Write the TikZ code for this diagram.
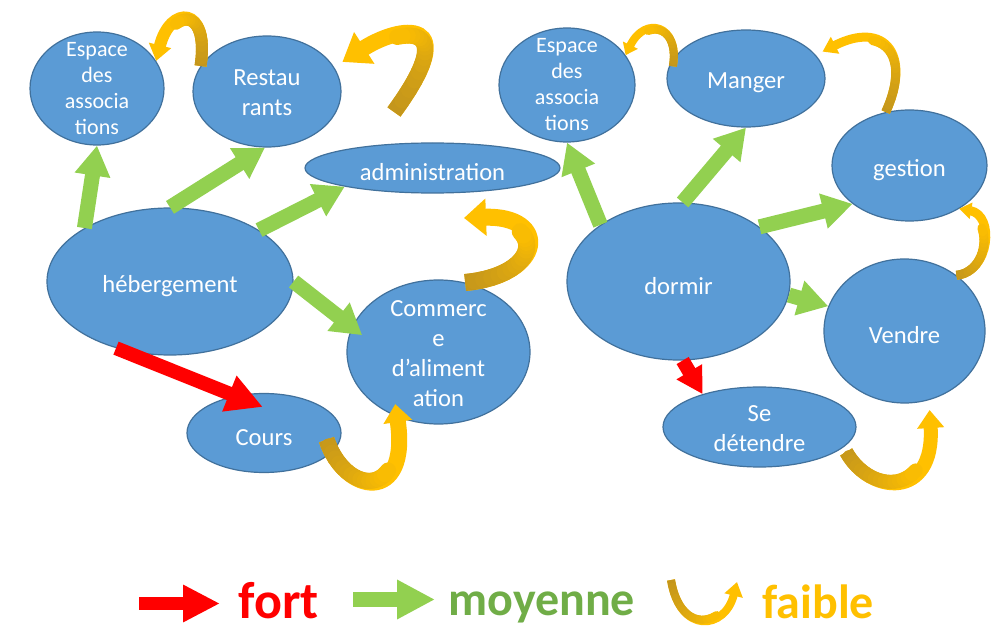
\documentclass[tikz,border=0pt]{standalone}
\usepackage{fontspec}
\setmainfont{Carlito}
\usetikzlibrary{shapes.geometric,arrows.meta}

\definecolor{bleubulle}{RGB}{91,155,213}
\definecolor{bordbulle}{RGB}{65,113,156}
\definecolor{vert}{RGB}{146,208,80}
\definecolor{vertfonce}{RGB}{112,173,71}
\definecolor{rouge}{RGB}{255,0,0}
\definecolor{jaune}{RGB}{255,192,0}
\definecolor{ocre}{RGB}{196,150,28}

% Curved ribbon arrow: #1 width, #2 head size, #3 start, #4/#5 controls, #6 end.
% Bright stroke with its head, then a dark-to-bright overlay on the tail part.
\newcommand\ruban[6]{%
  \draw[draw=jaune, line width=#1, -{Triangle[#2]}] #3 .. controls #4 and #5 .. #6;
  \path #3 .. controls #4 and #5 .. #6
    foreach \k [evaluate=\k as \t using \k/24] in {0,...,16} {coordinate[pos=\t] (rb\k)};
  \draw[draw=ocre, line width=#1] (rb0) -- (rb1);
  \foreach \k [evaluate=\k as \n using int(\k+1),
               evaluate=\k as \m using int(100-6*\k)] in {1,...,15}
    {\draw[draw=ocre!\m!jaune, line width=#1, line cap=round] (rb\k) -- (rb\n);}
}

\begin{document}
\begin{tikzpicture}[x=0.5pt,y=-0.5pt,
  bulle/.style={ellipse, draw=bordbulle, line width=0.6pt, fill=bleubulle, inner sep=0pt},
  txt/.style={text=white, align=center, inner sep=0pt, yshift=-0.6pt, font=\fontsize{12.3}{15}\selectfont},
  txtun/.style={txt, yshift=-1.5pt},
  petit/.style={text=white, align=center, inner sep=0pt, font=\fontsize{11}{13}\selectfont},
  moyen/.style={draw=vert, line width=7.5pt, -{Triangle[width=17pt,length=15pt]}},
  fort/.style={draw=rouge, line width=7pt, -{Triangle[width=18pt,length=18pt]}},
  legende/.style={anchor=base west, inner sep=0pt, font=\bfseries\fontsize{24}{28}\selectfont},
]
\fill[white] (0,0) rectangle (998,626);
\useasboundingbox (0,0) rectangle (998,626);

% ---- left group
\node[bulle, minimum width=67pt, minimum height=56.5pt,
      label={[petit]center:{Espace\\des\\associa\\tions}}] (e1) at (97,88.5) {};
\node[bulle, minimum width=74pt, minimum height=55.5pt,
      label={[txt]center:{Restau\\rants}}] (r) at (267,91.5) {};
\node[bulle, minimum width=127.5pt, minimum height=25pt,
      label={[txtun]center:{administration}}] (a) at (432.5,168) {};
\node[bulle, minimum width=123pt, minimum height=73.5pt,
      label={[txtun]center:{hébergement}}] (h) at (170,281.5) {};
\node[bulle, minimum width=91.5pt, minimum height=72pt,
      label={[txt]center:{Commerc\\e\\d’aliment\\ation}}] (c) at (438.5,352) {};
\node[bulle, minimum width=77pt, minimum height=39.5pt,
      label={[txtun]center:{Cours}}] (co) at (264,433) {};

% ---- right group
\node[bulle, minimum width=68pt, minimum height=57pt,
      label={[petit]center:{Espace\\des\\associa\\tions}}] (e2) at (567,85) {};
\node[bulle, minimum width=79pt, minimum height=48.5pt,
      label={[txtun]center:{Manger}}] (m) at (746,78.5) {};
\node[bulle, minimum width=77.5pt, minimum height=55.5pt,
      label={[txtun]center:{gestion}}] (g) at (909.5,165.5) {};
\node[bulle, minimum width=111.5pt, minimum height=78.5pt,
      label={[txtun]center:{dormir}}] (d) at (678.5,281.5) {};
\node[bulle, minimum width=80.5pt, minimum height=72pt,
      label={[txtun]center:{Vendre}}] (v) at (904.5,331) {};
\node[bulle, minimum width=96.5pt, minimum height=40pt,
      label={[txt]center:{Se\\détendre}}] (s) at (759.5,427) {};

% ---- medium links
\draw[moyen] (h.148) -- (e1.270);
\draw[moyen] (h.90) -- (r.268);
\draw[moyen] (h.30) -- (a.192);
\draw[moyen, shorten >=-6.5pt] (h.0) -- (c.164);
\draw[moyen] (d.144) -- (e2.270);
\draw[moyen] (d.87) -- (m.270);
\draw[moyen] (d.34) -- (g.214);
\draw[moyen] (d.-7) -- (v.162);

% ---- strong links
\draw[fort, shorten >=-15pt] (h.231) -- (co.128);
\draw[fort, -{Triangle[width=14pt,length=13pt]}] (d.273) -- (s.150);

% ---- weak links
\coordinate (rq) at (394,112);
\coordinate (cq) at (464,218);
\ruban{6pt}{width=11pt,length=8pt}{(r.159)}{(210,5)}{(170,5)}{(e1.25)}
\ruban{8pt}{width=18pt,length=13pt}{(rq)}{(465,15)}{(400,25)}{([xshift=6pt]r.25)}
\ruban{8.5pt}{width=18pt,length=11pt}{(c.69)}{(545,275)}{(550,215)}{(cq)}
\ruban{8pt}{width=14pt,length=9pt}{([xshift=-7pt]co.-5)}{(345,495)}{(410,505)}{([yshift=6pt]c.236)}
\ruban{4pt}{width=8pt,length=5.5pt}{([xshift=2pt]m.171)}{(680,25)}{(645,15)}{(e2.27)}
\ruban{4.5pt}{width=9pt,length=7pt}{(g.114)}{(912,55)}{(885,20)}{([xshift=5pt]m.22)}
\ruban{4.5pt}{width=8pt,length=6pt}{(v.47)}{(990,272)}{(995,215)}{(g.-41)}
\ruban{7pt}{width=13pt,length=9pt}{([xshift=5pt]s.-18)}{(870,495)}{(935,500)}{([yshift=-5pt]v.-70)}

% ---- key
\coordinate (lr0) at (139,603.5);
\coordinate (lr1) at (220,603.5);
\draw[draw=rouge, line width=6.5pt, -{Triangle[width=17.5pt,length=18.5pt]}] (lr0) -- (lr1);
\node[legende, text=rouge, font=\bfseries\fontsize{26}{30}\selectfont] (kfort) at (238,618) {fort};
\coordinate (lv0) at (353,599.5);
\coordinate (lv1) at (435,599.5);
\draw[draw=vert, line width=7.5pt, -{Triangle[width=18.5pt,length=19pt]}] (lv0) -- (lv1);
\node[legende, text=vertfonce] (kmoy) at (448,615) {moyenne};
\coordinate (lu0) at (671,580);
\coordinate (lu1) at (737,582);
\ruban{4pt}{width=9pt,length=7pt}{(lu0)}{(680,635)}{(725,630)}{(lu1)}
\node[legende, text=jaune] (kfai) at (762,618) {faible};
\end{tikzpicture}
\end{document}
